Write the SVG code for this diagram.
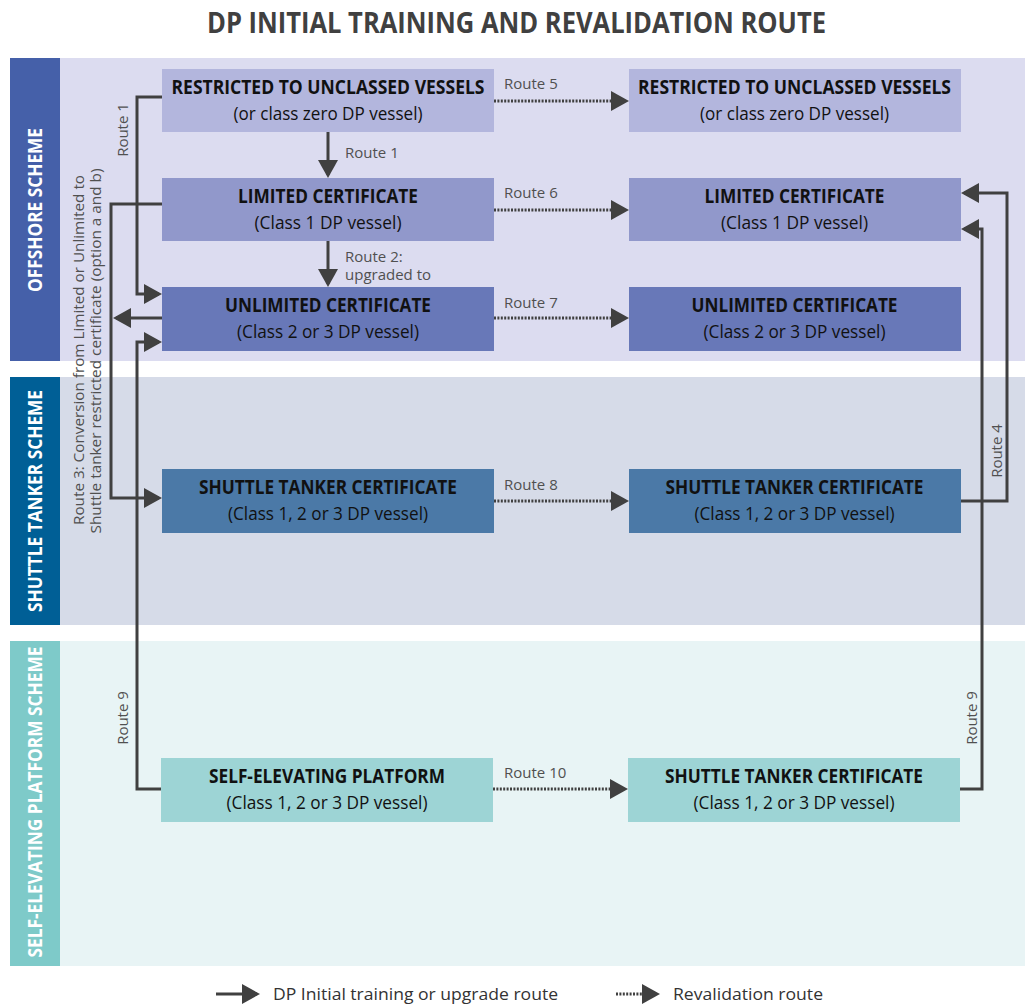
<svg xmlns="http://www.w3.org/2000/svg" width="1025" height="1004" viewBox="0 0 1025 1004">
<defs>
<style>
.title{font-family:"Open Sans","Liberation Sans",sans-serif;font-weight:700;font-size:28px;fill:#404040;text-anchor:middle}
.lane{font-family:"Open Sans","Liberation Sans",sans-serif;font-weight:700;font-size:20px;fill:#ffffff;text-anchor:middle}
.t1{font-family:"Open Sans","Liberation Sans",sans-serif;font-weight:700;font-size:20px;fill:#111111;text-anchor:middle}
.t2{font-family:"Open Sans","Liberation Sans",sans-serif;font-weight:400;font-size:19px;fill:#111111;text-anchor:middle}
.lbl{font-family:"Open Sans","Liberation Sans",sans-serif;font-weight:400;font-size:15px;fill:#505050}
.lblc{font-family:"Open Sans","Liberation Sans",sans-serif;font-weight:400;font-size:15px;fill:#505050;text-anchor:middle}
.leg{font-family:"Open Sans","Liberation Sans",sans-serif;font-weight:400;font-size:17px;fill:#333333}
.solid{fill:none;stroke:#404040;stroke-width:3;marker-end:url(#ah)}
.dot{fill:none;stroke:#404040;stroke-width:3;stroke-dasharray:2 1.4;marker-end:url(#ah)}
</style>
<marker id="ah" markerUnits="userSpaceOnUse" markerWidth="18" markerHeight="20" viewBox="0 0 18 20" refX="15" refY="10" orient="auto">
<path d="M0,0 L18,10 L0,20 z" fill="#404040"/>
</marker>
</defs>

<text class="title" x="516.5" y="33" textLength="619" lengthAdjust="spacingAndGlyphs">DP INITIAL TRAINING AND REVALIDATION ROUTE</text>

<g id="lane-offshore">
<rect x="60" y="58" width="965" height="303" fill="#dcdcf0"/>
<rect x="10" y="58" width="50" height="303" fill="#4560a9"/>
<text class="lane" transform="translate(42,210) rotate(-90)" textLength="164" lengthAdjust="spacingAndGlyphs">OFFSHORE SCHEME</text>
</g>
<g id="lane-shuttle">
<rect x="60" y="377" width="965" height="248" fill="#d6dbe8"/>
<rect x="10" y="377" width="50" height="248" fill="#005f96"/>
<text class="lane" transform="translate(42,501) rotate(-90)" textLength="222" lengthAdjust="spacingAndGlyphs">SHUTTLE TANKER SCHEME</text>
</g>
<g id="lane-self">
<rect x="60" y="641" width="965" height="325" fill="#e8f4f5"/>
<rect x="10" y="641" width="50" height="325" fill="#7ecac9"/>
<text class="lane" transform="translate(42,802) rotate(-90)" textLength="311" lengthAdjust="spacingAndGlyphs">SELF-ELEVATING PLATFORM SCHEME</text>
</g>

<g id="connectors">
<path class="solid" d="M328,132 V175"/>
<path class="solid" d="M328,241 V284"/>
<path class="solid" d="M162,97 H137 V294 H159"/>
<path class="solid" d="M162,204 H111 V498 H159"/>
<path class="solid" d="M162,318 H116"/>
<path class="solid" d="M161,789 H137 V342 H159"/>
<path class="solid" d="M961,501 H1007 V193 H964"/>
<path class="solid" d="M960,789 H982 V229 H964"/>
<path class="dot" d="M494,101 H626"/>
<path class="dot" d="M494,210 H626"/>
<path class="dot" d="M494,318 H626"/>
<path class="dot" d="M494,501 H626"/>
<path class="dot" d="M493,789 H625"/>
<text class="lbl" x="345" y="158">Route 1</text>
<text class="lbl" x="345" y="262">Route 2:</text>
<text class="lbl" x="345" y="280">upgraded to</text>
<text class="lbl" x="504" y="89">Route 5</text>
<text class="lbl" x="504" y="198">Route 6</text>
<text class="lbl" x="504" y="308">Route 7</text>
<text class="lbl" x="504" y="490">Route 8</text>
<text class="lbl" x="504" y="778">Route 10</text>
<text class="lblc" transform="translate(128,130) rotate(-90)">Route 1</text>
<text class="lblc" transform="translate(128,718) rotate(-90)">Route 9</text>
<text class="lblc" transform="translate(1002,451) rotate(-90)">Route 4</text>
<text class="lblc" transform="translate(977,718) rotate(-90)">Route 9</text>
<text class="lblc" transform="translate(84,350) rotate(-90)" textLength="350" lengthAdjust="spacingAndGlyphs">Route 3: Conversion from Limited or Unlimited to</text>
<text class="lblc" transform="translate(101,351) rotate(-90)" textLength="365" lengthAdjust="spacingAndGlyphs">Shuttle tanker restricted certificate (option a and b)</text>
</g>

<g id="n-restricted-l">
<rect x="162" y="69" width="332" height="63" fill="#b3b6dd"/>
<text class="t1" x="328" y="94" textLength="313" lengthAdjust="spacingAndGlyphs">RESTRICTED TO UNCLASSED VESSELS</text>
<text class="t2" x="328" y="120" textLength="189" lengthAdjust="spacingAndGlyphs">(or class zero DP vessel)</text>
</g>
<g id="n-limited-l">
<rect x="162" y="178" width="332" height="63" fill="#9198cb"/>
<text class="t1" x="328" y="203" textLength="180" lengthAdjust="spacingAndGlyphs">LIMITED CERTIFICATE</text>
<text class="t2" x="328" y="229" textLength="147" lengthAdjust="spacingAndGlyphs">(Class 1 DP vessel)</text>
</g>
<g id="n-unlimited-l">
<rect x="162" y="287" width="332" height="64" fill="#6878b8"/>
<text class="t1" x="328" y="312" textLength="206" lengthAdjust="spacingAndGlyphs">UNLIMITED CERTIFICATE</text>
<text class="t2" x="328" y="338" textLength="182" lengthAdjust="spacingAndGlyphs">(Class 2 or 3 DP vessel)</text>
</g>
<g id="n-restricted-r">
<rect x="629" y="69" width="332" height="63" fill="#b3b6dd"/>
<text class="t1" x="794.5" y="94" textLength="313" lengthAdjust="spacingAndGlyphs">RESTRICTED TO UNCLASSED VESSELS</text>
<text class="t2" x="794.5" y="120" textLength="189" lengthAdjust="spacingAndGlyphs">(or class zero DP vessel)</text>
</g>
<g id="n-limited-r">
<rect x="629" y="178" width="332" height="63" fill="#9198cb"/>
<text class="t1" x="794.5" y="203" textLength="180" lengthAdjust="spacingAndGlyphs">LIMITED CERTIFICATE</text>
<text class="t2" x="794.5" y="229" textLength="147" lengthAdjust="spacingAndGlyphs">(Class 1 DP vessel)</text>
</g>
<g id="n-unlimited-r">
<rect x="629" y="287" width="332" height="64" fill="#6878b8"/>
<text class="t1" x="794.5" y="312" textLength="206" lengthAdjust="spacingAndGlyphs">UNLIMITED CERTIFICATE</text>
<text class="t2" x="794.5" y="338" textLength="182" lengthAdjust="spacingAndGlyphs">(Class 2 or 3 DP vessel)</text>
</g>
<g id="n-shuttle-l">
<rect x="162" y="469" width="332" height="64" fill="#4b79a7"/>
<text class="t1" x="328" y="494" textLength="258" lengthAdjust="spacingAndGlyphs">SHUTTLE TANKER CERTIFICATE</text>
<text class="t2" x="328" y="520" textLength="200" lengthAdjust="spacingAndGlyphs">(Class 1, 2 or 3 DP vessel)</text>
</g>
<g id="n-shuttle-r">
<rect x="629" y="469" width="332" height="64" fill="#4b79a7"/>
<text class="t1" x="794.5" y="494" textLength="258" lengthAdjust="spacingAndGlyphs">SHUTTLE TANKER CERTIFICATE</text>
<text class="t2" x="794.5" y="520" textLength="200" lengthAdjust="spacingAndGlyphs">(Class 1, 2 or 3 DP vessel)</text>
</g>
<g id="n-selfelev-l">
<rect x="161" y="758" width="332" height="64" fill="#9dd4d5"/>
<text class="t1" x="327" y="783" textLength="236" lengthAdjust="spacingAndGlyphs">SELF-ELEVATING PLATFORM</text>
<text class="t2" x="327" y="809" textLength="201" lengthAdjust="spacingAndGlyphs">(Class 1, 2 or 3 DP vessel)</text>
</g>
<g id="n-shuttle-se-r">
<rect x="628" y="758" width="332" height="64" fill="#9dd4d5"/>
<text class="t1" x="794" y="783" textLength="258" lengthAdjust="spacingAndGlyphs">SHUTTLE TANKER CERTIFICATE</text>
<text class="t2" x="794" y="809" textLength="201" lengthAdjust="spacingAndGlyphs">(Class 1, 2 or 3 DP vessel)</text>
</g>

<g id="legend">
<path class="solid" d="M216,994 H257"/>
<text class="leg" x="273" y="1000" textLength="285" lengthAdjust="spacingAndGlyphs">DP Initial training or upgrade route</text>
<path class="dot" d="M616,994 H657"/>
<text class="leg" x="673" y="1000" textLength="150" lengthAdjust="spacingAndGlyphs">Revalidation route</text>
</g>
</svg>
